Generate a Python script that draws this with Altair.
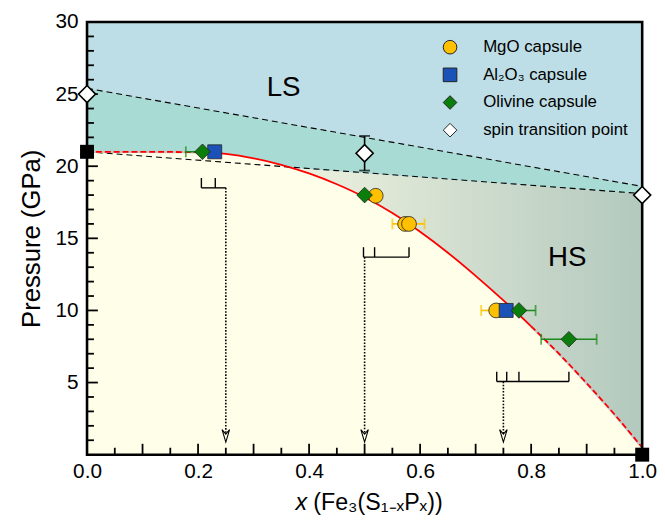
import altair as alt
import pandas as pd

W, H = 562, 438
FONT = "Liberation Sans"

# ---------------- data ----------------
curve_x = [0.0, 0.1, 0.2, 0.25, 0.3, 0.35, 0.4, 0.45, 0.5, 0.55, 0.6, 0.65, 0.7, 0.75, 0.8, 0.85, 0.9, 0.95, 1.0]
curve_p = [21.0, 21.0, 20.97, 20.85, 20.55, 20.1, 19.5, 18.75, 17.85, 16.75, 15.45, 14.0, 12.4, 10.7, 8.9, 7.0,
           4.95, 2.8, 0.5]

bound_x = [0.0, 1.0]
upper_p = [25.4, 18.6]
lower_p = [21.0, 18.1]
hs_x = [0.365, 1.0]
hs_top = [19.9, 18.1]

series_names = ["MgO capsule", "Al₂O₃ capsule", "Olivine capsule", "spin transition point"]
series_colors = ["#ffc000", "#1a52b8", "#0b7d0b", "#ffffff"]
series_shapes = ["circle", "square", "diamond", "diamond"]

mgo_x = [0.52, 0.573, 0.58, 0.737]
mgo_p = [17.95, 16.0, 16.0, 10.0]
al_x = [0.23, 0.755]
al_p = [21.0, 10.0]
ol_x = [0.208, 0.50, 0.778, 0.868]
ol_p = [21.0, 18.0, 10.0, 8.0]
spin_x = [0.0, 0.5, 1.0]
spin_p = [25.0, 20.9, 18.0]
spin_err_x = [0.5]
spin_err_lo = [19.7]
spin_err_hi = [22.1]
end_x = [0.0, 1.0]
end_p = [21.0, 0.0]

mgo_err_p = [16.0, 10.0]
mgo_err_lo = [0.55, 0.71]
mgo_err_hi = [0.608, 0.764]
ol_err_p = [21.0, 10.0, 8.0]
ol_err_lo = [0.178, 0.748, 0.818]
ol_err_hi = [0.238, 0.808, 0.918]

arrow_x = [0.25, 0.5, 0.75]
arrow_top = [18.5, 13.7, 5.07]
arrow_bottom = [1.5, 1.5, 1.5]
arrow_head = [1.3, 1.3, 1.3]
bracket_lo = [0.206, 0.498, 0.738]
bracket_hi = [0.25, 0.58, 0.868]
bracket_p = [18.5, 13.7, 5.07]
peak_x = [0.206, 0.231, 0.498, 0.518, 0.58, 0.738, 0.756, 0.778, 0.868]
peak_p = [18.5, 18.5, 13.7, 13.7, 13.7, 5.07, 5.07, 5.07, 5.07]

region_labels = ["LS", "HS"]
region_x = [0.354, 0.865]
region_p = [25.4, 13.6]

x_labels = [0.0, 0.2, 0.4, 0.6, 0.8, 1.0]
y_labels = [5, 10, 15, 20, 25, 30]
x_minor = [0.05, 0.15, 0.25, 0.35, 0.45, 0.55, 0.65, 0.75, 0.85, 0.95]
x_major = [0.1, 0.2, 0.3, 0.4, 0.5, 0.6, 0.7, 0.8, 0.9]
y_minor = [1, 2, 3, 4, 6, 7, 8, 9, 11, 12, 13, 14, 16, 17, 18, 19, 21, 22, 23, 24, 26, 27, 28, 29]
y_major = [5, 10, 15, 20, 25]

LS_COL = "#bddee6"
TEAL_COL = "#a8dbd3"
CREAM_COL = "#fefee9"

# ---------------- helpers ----------------
xs = alt.Scale(domain=[0, 1], nice=False, zero=False)
ys = alt.Scale(domain=[0, 30], nice=False, zero=False)
X_AX = alt.Axis(values=x_labels, format=".1f", ticks=False, domain=False, grid=False, labelFlush=False,
                labelFontSize=21, labelPadding=6, labelColor="black", title=None)
Y_AX = alt.Axis(values=y_labels, format="d", ticks=False, domain=False, grid=False, labelFlush=False,
                labelFontSize=21, labelPadding=9, labelColor="black",
                title="Pressure (GPa)", titleFontSize=26, titleFontWeight="normal",
                titlePadding=11, titleColor="black")


def X(f):
    return alt.X(f, type="quantitative", scale=xs, axis=X_AX)


def Y(f):
    return alt.Y(f, type="quantitative", scale=ys, axis=Y_AX)


df_bound = pd.DataFrame({"x": bound_x, "hi": upper_p, "lo": lower_p})
df_hs = pd.DataFrame({"x": hs_x, "top": hs_top})
df_curve = pd.DataFrame({"x": curve_x, "p": curve_p})
df_left = df_curve[df_curve.x <= 0.2]
df_mid = df_curve[(df_curve.x >= 0.2) & (df_curve.x <= 0.8)]
df_right = df_curve[df_curve.x >= 0.8]

layers = []

# teal band
layers.append(alt.Chart(df_bound).mark_area(color=TEAL_COL).encode(x=X("x"), y=Y("lo"), y2="hi"))
# HS gradient
grad = alt.LinearGradient(gradient="linear",
                          stops=[alt.GradientStop(color="#eef2df", offset=0),
                                 alt.GradientStop(color="#b3c9be", offset=1)],
                          x1=0, x2=1, y1=0, y2=0)
layers.append(alt.Chart(df_hs).mark_area(color=grad).encode(x=X("x"), y=Y("top")))
# cream region under curve
layers.append(alt.Chart(df_curve).mark_area(color=CREAM_COL, interpolate="monotone").encode(x=X("x"), y=Y("p")))

# dashed boundary lines
df_lines = pd.concat([
    pd.DataFrame({"x": bound_x, "p": upper_p, "id": "u"}),
    pd.DataFrame({"x": bound_x, "p": lower_p, "id": "l"}),
])
layers.append(alt.Chart(df_lines).mark_line(color="black", strokeWidth=1.1, strokeDash=[6, 4]).encode(
    x=X("x"), y=Y("p"), detail="id:N"))

# red curve
for d in (df_left, df_right):
    layers.append(alt.Chart(d).mark_line(color="#c4c4c4", strokeWidth=2.6, interpolate="monotone").encode(
        x=X("x"), y=Y("p")))
    layers.append(alt.Chart(d).mark_line(color="#ff0000", strokeWidth=1.8, strokeDash=[6, 3],
                                         interpolate="monotone").encode(x=X("x"), y=Y("p")))
layers.append(alt.Chart(df_mid).mark_line(color="#ff0000", strokeWidth=1.8, interpolate="monotone").encode(
    x=X("x"), y=Y("p")))

# arrows (dotted) + heads
df_arr = pd.DataFrame({"x": arrow_x, "top": arrow_top, "bot": arrow_bottom, "head": arrow_head})
layers.append(alt.Chart(df_arr).mark_rule(color="black", strokeWidth=1.6, strokeDash=[1.6, 1.6]).encode(
    x=X("x"), y=Y("top"), y2="bot"))
layers.append(alt.Chart(df_arr).mark_point(shape="M-0.6,-1L0,1L0.6,-1L0,-0.3Z", filled=False,
                                           color="black", strokeWidth=1.1, size=160, opacity=1).encode(
    x=X("x"), y=Y("head")))

# brackets
df_br = pd.DataFrame({"lo": bracket_lo, "hi": bracket_hi, "p": bracket_p})
layers.append(alt.Chart(df_br).mark_rule(color="black", strokeWidth=1.4).encode(x=X("lo"), x2="hi", y=Y("p")))
df_pk = pd.DataFrame({"x": peak_x, "p": peak_p})
layers.append(alt.Chart(df_pk).mark_rule(color="black", strokeWidth=1.4, y2Offset=-10).encode(
    x=X("x"), y=Y("p"), y2="p"))

# error bars
df_me = pd.DataFrame({"p": mgo_err_p, "lo": mgo_err_lo, "hi": mgo_err_hi})
df_oe = pd.DataFrame({"p": ol_err_p, "lo": ol_err_lo, "hi": ol_err_hi})
for d, c in ((df_me, "#ffc000"), (df_oe, "#1a8a1a")):
    layers.append(alt.Chart(d).mark_rule(color=c, strokeWidth=1.6).encode(x=X("lo"), x2="hi", y=Y("p")))
    for f in ("lo", "hi"):
        layers.append(alt.Chart(d).mark_tick(color=c, orient="vertical", size=11, thickness=1.8).encode(
            x=X(f), y=Y("p")))
df_se = pd.DataFrame({"x": spin_err_x, "lo": spin_err_lo, "hi": spin_err_hi})
layers.append(alt.Chart(df_se).mark_rule(color="black", strokeWidth=1.6).encode(x=X("x"), y=Y("lo"), y2="hi"))
for f in ("lo", "hi"):
    layers.append(alt.Chart(df_se).mark_tick(color="black", orient="horizontal", size=11, thickness=1.8).encode(
        x=X("x"), y=Y(f)))

# legend definition
LEG = alt.Legend(orient="none", legendX=359, legendY=17, title=None, labelFontSize=17, labelFont=FONT,
                 labelColor="black", symbolSize=190, symbolStrokeColor="#222222", symbolStrokeWidth=1,
                 rowPadding=9, labelOffset=25, padding=0)
col = alt.Color("series:N", scale=alt.Scale(domain=series_names, range=series_colors), legend=LEG)
shp = alt.Shape("series:N", scale=alt.Scale(domain=series_names, range=series_shapes), legend=LEG)

for xv, pv, nm, sz in ((mgo_x, mgo_p, series_names[0], 225),
                       (al_x, al_p, series_names[1], 200),
                       (ol_x, ol_p, series_names[2], 250)):
    dfp = pd.DataFrame({"x": xv, "p": pv, "series": nm})
    layers.append(alt.Chart(dfp).mark_point(filled=True, size=sz, stroke="#222222", strokeWidth=0.8,
                                            opacity=1).encode(x=X("x"), y=Y("p"), color=col, shape=shp))

# region labels
df_reg = pd.DataFrame({"t": region_labels, "x": region_x, "p": region_p})
layers.append(alt.Chart(df_reg).mark_text(font=FONT, fontSize=28, color="black").encode(
    x=X("x"), y=Y("p"), text="t:N"))

# frame
layers.append(alt.Chart(pd.DataFrame({"a": [0]})).mark_rect(filled=False, stroke="black", strokeWidth=2.6).encode(
    x=alt.value(0), x2=alt.value(W), y=alt.value(0), y2=alt.value(H)))

# inward ticks
layers.append(alt.Chart(pd.DataFrame({"v": x_minor})).mark_rule(color="black", strokeWidth=1.8).encode(
    x=X("v"), y=alt.value(H), y2=alt.value(H - 7)))
layers.append(alt.Chart(pd.DataFrame({"v": x_major})).mark_rule(color="black", strokeWidth=1.8).encode(
    x=X("v"), y=alt.value(H), y2=alt.value(H - 11)))
layers.append(alt.Chart(pd.DataFrame({"v": y_minor})).mark_rule(color="black", strokeWidth=1.8).encode(
    y=Y("v"), x=alt.value(0), x2=alt.value(7)))
layers.append(alt.Chart(pd.DataFrame({"v": y_major})).mark_rule(color="black", strokeWidth=1.8).encode(
    y=Y("v"), x=alt.value(0), x2=alt.value(11)))

# spin transition points and end members on top
df_spin = pd.DataFrame({"x": spin_x, "p": spin_p, "series": series_names[3]})
layers.append(alt.Chart(df_spin).mark_point(filled=True, size=300, stroke="black", strokeWidth=1.6,
                                            opacity=1).encode(x=X("x"), y=Y("p"), color=col, shape=shp))
df_end = pd.DataFrame({"x": end_x, "p": end_p})
layers.append(alt.Chart(df_end).mark_point(filled=True, shape="square", size=200, color="black",
                                           opacity=1).encode(x=X("x"), y=Y("p")))

# x-axis title as text
layers.append(alt.Chart(pd.DataFrame({"t": ["x"]})).mark_text(
    font=FONT, fontSize=23.5, fontStyle="italic", align="center", baseline="middle", color="black").encode(
    x=alt.value(217), y=alt.value(H + 49), text="t:N"))
layers.append(alt.Chart(pd.DataFrame({"t": ["(Fe₃(S₁₋ₓPₓ))"]})).mark_text(
    font=FONT, fontSize=23.5, align="left", baseline="middle", color="black").encode(
    x=alt.value(229), y=alt.value(H + 49), text="t:N"))

chart = alt.layer(*layers).properties(
    width=W, height=H,
    padding={"left": 10, "top": 0, "right": 0, "bottom": 5},
).configure_view(fill=LS_COL, stroke="transparent").configure_axis(
    labelFont=FONT, titleFont=FONT
)

chart.save("out.html", embed_options={"renderer": "svg", "actions": False})
